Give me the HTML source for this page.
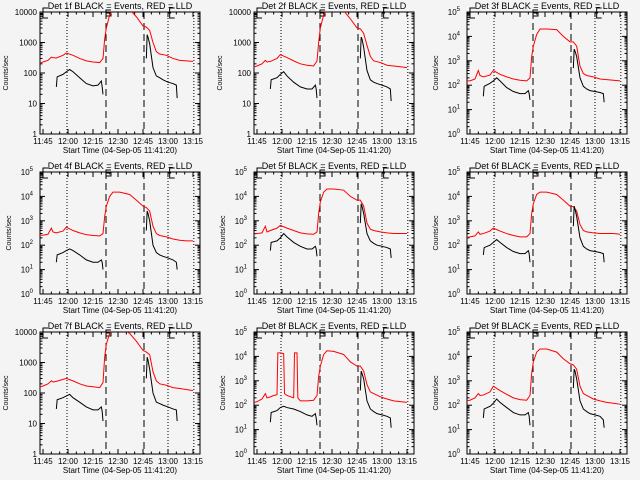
<!DOCTYPE html>
<html><head><meta charset="utf-8"><style>
html,body{margin:0;padding:0;background:#f4f4f4}
svg{display:block}
text{font-family:"Liberation Sans",sans-serif;fill:#000}
</style></head><body>
<svg id="c" width="640" height="480" xmlns="http://www.w3.org/2000/svg">
<rect width="640" height="480" fill="#f4f4f4"/>
</svg>
<script>
const detNames = ["1f","2f","3f","4f","5f","6f","7f","8f","9f"];
const decades = [4,4,5,5,5,5,4,5,5];
const xTickLabels = ["11:45","12:00","12:15","12:30","12:45","13:00","13:15"];
const redT = [-3,0,3,5,6,8,12,14,18,22,26,30,34,36,37,38,40,42,46,52,56,60,62,64,66,68,70,74,78,82,86,90];
const redT8 = [-3,0,3,5,6,8,10,12,12.5,14,16,16.5,18,22,22.5,24,24.5,26,30,34,36,37,38,40,42,46,52,56,60,62,64,66,68,70,74,78,82,86,90];
const red1 = [200,230,260,330,320,310,380,450,380,300,250,230,220,300,1300,3000,8000,12000,15000,12000,7000,3500,3200,2500,1000,500,420,380,300,260,250,240];
const red2 = [150,170,200,260,230,240,300,400,320,250,200,180,170,250,1000,3000,8000,12000,14000,11000,6000,3000,2800,2000,800,350,250,220,180,170,160,150];
const red3 = [150,150,180,400,250,220,260,400,280,220,180,160,150,200,1500,4000,12000,20000,20000,19000,10000,6000,6000,4000,600,300,250,220,180,170,160,150];
const red4 = [250,260,280,500,350,320,380,550,400,320,270,250,240,300,1500,4000,10000,15000,15000,12000,7000,4000,3500,2500,600,300,250,220,180,160,150,150];
const red5 = [280,300,320,600,350,400,500,650,500,400,320,290,280,350,2000,6000,15000,20000,20000,18000,10000,7000,7000,4000,800,450,400,350,320,300,300,300];
const red6 = [200,220,240,350,280,300,380,500,380,300,250,220,220,300,2000,5000,12000,15000,15000,12000,7000,4000,3800,2500,700,400,350,320,300,300,300,280];
const red7 = [150,170,200,250,230,240,280,300,250,200,170,160,150,220,1500,4000,9000,12000,14000,9000,5000,2500,2200,1800,500,250,200,180,150,140,130,120];
const red8 = [120,140,180,300,200,220,250,270,14000,14000,13000,300,250,200,14000,14000,200,150,150,160,250,1500,4000,12000,17000,16000,12000,6000,4000,4000,2500,700,350,300,220,180,150,140,130];
const red9 = [150,160,200,300,250,260,350,600,400,280,200,170,160,250,2000,6000,15000,20000,20000,15000,8000,5000,4500,3000,600,300,250,180,150,130,120,110];
const blackT1 = [8,8.5,12,14,16,18,22,26,30,33,35,35.5,36];
const blackT2 = [62,62.5,63,64,66,68,70,72,75,78,80,80.5];
const blkA1=[35,75,90,110,130,110,70,45,38,40,55,35,20], blkB1=[300,1800,1500,900,150,80,70,60,50,45,40,15];
const blkA2=[30,60,70,90,110,80,50,35,30,30,40,30,15], blkB2=[300,1500,1300,700,120,60,50,45,40,35,30,12];
const blkA3=[35,90,120,150,200,150,80,55,45,45,60,45,25], blkB3=[500,3000,2500,1500,200,90,70,60,55,50,45,20];
const blkA4=[20,40,50,60,70,60,40,25,20,20,25,20,10], blkB4=[400,2500,2000,1000,100,50,40,35,30,25,20,10];
const blkA5=[60,130,150,200,300,220,130,90,70,70,90,70,35], blkB5=[800,5000,4000,2000,300,150,120,100,90,80,70,30];
const blkA6=[40,80,100,130,170,130,80,55,45,45,60,45,20], blkB6=[600,4000,3000,1500,200,90,70,60,55,50,45,20];
const blkA7=[30,60,70,80,90,70,50,35,28,28,35,25,12], blkB7=[300,1500,1200,600,100,50,45,40,35,30,28,12];
const blkA8=[20,50,60,80,90,80,70,55,40,35,45,30,15], blkB8=[400,2500,2000,1200,150,70,55,45,40,35,30,12];
const blkA9=[30,70,90,120,180,130,80,50,40,40,50,35,15], blkB9=[500,3000,2500,1200,150,70,55,45,40,35,25,12];
const dottedT = [14.4,75,90.5];
const dashedT = [37.8,60.6];

const reds=[red1,red2,red3,red4,red5,red6,red7,red8,red9];
const blkA=[blkA1,blkA2,blkA3,blkA4,blkA5,blkA6,blkA7,blkA8,blkA9];
const blkB=[blkB1,blkB2,blkB3,blkB4,blkB5,blkB6,blkB7,blkB8,blkB9];
const svg=document.getElementById('c');
const NS="http://www.w3.org/2000/svg";
function mk(tag,attrs,parent){const e=document.createElementNS(NS,tag);for(const k in attrs)e.setAttribute(k,attrs[k]);(parent||svg).appendChild(e);return e;}

for(let p=0;p<9;p++){
  const col=p%3,row=Math.floor(p/3);
  const ox=col*214-(col==2?1:0), oy=row*160;
  const g=mk('g',{});
  
  
  const x0=ox+40,x1=ox+200,y0=oy+12,y1=oy+134;
  const nd=decades[p];
  const xs=t=>ox+43+t*5/3;
  const ys=v=>y1-(Math.log10(v))/nd*(y1-y0);
  const cid='clip'+p;
  const cp=mk('clipPath',{id:cid},g);mk('rect',{x:x0,y:y0,width:x1-x0,height:y1-y0},cp);
  const box=mk('rect',{x:x0,y:y0,width:x1-x0,height:y1-y0,fill:'none',stroke:'#000','stroke-width':1},g);
  
  
  for(let d=0;d<=nd;d++){
    const y=ys(Math.pow(10,d));
    mk('line',{x1:x0,y1:y,x2:x0+5,y2:y,stroke:'#000'},g);
    mk('line',{x1:x1,y1:y,x2:x1-5,y2:y,stroke:'#000'},g);
    if(d<nd)for(let m=2;m<10;m++){const ym=ys(m*Math.pow(10,d));
      mk('line',{x1:x0,y1:ym,x2:x0+2.5,y2:ym,stroke:'#000'},g);
      mk('line',{x1:x1,y1:ym,x2:x1-2.5,y2:ym,stroke:'#000'},g);}
    const tl=mk('text',{x:x0-3,y:y+3,'font-size':8,'text-anchor':'end'},g);
    
    
    if(nd==4){tl.textContent=String(Math.pow(10,d));}
    else{tl.textContent='10';const s=mk('tspan',{dy:-4,'font-size':6},tl);s.textContent=String(d);tl.setAttribute('x',x0-7);}
  }
  for(let i=0;i<xTickLabels.length;i++){
    const x=xs(i*15);
    mk('line',{x1:x,y1:y1,x2:x,y2:y1-5,stroke:'#000'},g);
    mk('line',{x1:x,y1:y0,x2:x,y2:y0+5,stroke:'#000'},g);
    const tl=mk('text',{x:x,y:y1+10,'font-size':8,'text-anchor':'middle'},g);
    tl.textContent=xTickLabels[i];
    
    
  }
  for(let m=-1;m<=18;m++){if(m%3==0)continue;const x=xs(m*5);if(x<x0||x>x1)continue;
    mk('line',{x1:x,y1:y1,x2:x,y2:y1-2.5,stroke:'#000'},g);mk('line',{x1:x,y1:y0,x2:x,y2:y0+2.5,stroke:'#000'},g);}
  const tt=mk('text',{x:ox+120,y:oy+9,'font-size':9,'text-anchor':'middle'},g);
  tt.textContent='Det '+detNames[p]+' BLACK = Events, RED = LLD';
  
  
  const xt=mk('text',{x:ox+120,y:oy+153,'font-size':8,'text-anchor':'middle'},g);
  xt.textContent='Start Time (04-Sep-05 11:41:20)';
  
  
  const yt=mk('text',{x:0,y:0,'font-size':7,'text-anchor':'middle',transform:'translate('+(ox+(nd==4?8:11))+','+(oy+73)+') rotate(-90)'},g);
  yt.textContent='Counts/sec';
  
  
  for(const t of dottedT){const l=mk('line',{x1:xs(t),y1:y0,x2:xs(t),y2:y1,stroke:'#000','stroke-dasharray':'1,2'},g);
    
    }
  for(const t of dashedT){const l=mk('line',{x1:xs(t),y1:y0,x2:xs(t),y2:y1,stroke:'#000','stroke-dasharray':'7,4'},g);
    
    }
  mk('path',{d:`M${xs(3)},${y0-4}h-5v10h5M${xs(-1.8)},${y0+2}h3`,fill:'none',stroke:'#000'},g);
  mk('path',{d:`M${xs(37.8)+5},${y0-2}h-5v3h5v3h-5`,fill:'none',stroke:'#000'},g);
  mk('path',{d:`M${xs(79)},${y0-4}h-5v10h5M${xs(75)},${y0+1}h3`,fill:'none',stroke:'#000'},g);
  const cg=mk('g',{'clip-path':'url(#'+cid+')'},g);
  const rt=p==7?redT8:redT;
  const rv=reds[p];
  const rl=mk('polyline',{points:rt.map((t,i)=>xs(t)+','+ys(rv[i])).join(' '),fill:'none',stroke:'#ff0000','stroke-width':1},cg);
  
  
  const b1=mk('polyline',{points:blackT1.map((t,i)=>xs(t)+','+ys(blkA[p][i])).join(' '),fill:'none',stroke:'#000','stroke-width':1},cg);
  
  
  const b2=mk('polyline',{points:blackT2.map((t,i)=>xs(t)+','+ys(blkB[p][i])).join(' '),fill:'none',stroke:'#000','stroke-width':1},cg);
  
  
}
</script>
</body></html>
